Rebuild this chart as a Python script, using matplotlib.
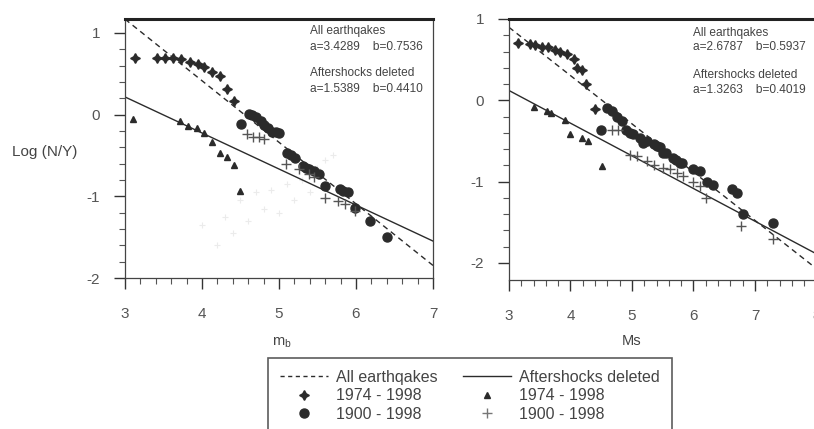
import numpy as np
import matplotlib
matplotlib.use('Agg')
import matplotlib.pyplot as plt
from matplotlib.lines import Line2D

plt.rcParams['font.family'] = ['Liberation Sans', 'DejaVu Sans']
plt.rcParams['axes.unicode_minus'] = False

# -----------------------------
# Data: left panel (mb)
# -----------------------------
mb_all_74 = [3.13, 3.41, 3.52, 3.62, 3.73, 3.84, 3.95, 4.03, 4.13, 4.23, 4.33, 4.42]
logn_all_74_mb = [0.69, 0.69, 0.69, 0.69, 0.68, 0.64, 0.62, 0.58, 0.52, 0.47, 0.31, 0.17]

mb_all_00 = [4.51, 4.61, 4.65, 4.70, 4.76, 4.81, 4.86, 4.91, 4.96, 5.00, 5.11, 5.16, 5.21,
             5.31, 5.35, 5.39, 5.45, 5.52, 5.60, 5.79, 5.83, 5.90, 5.99, 6.18, 6.40]
logn_all_00_mb = [-0.12, 0.01, -0.01, -0.03, -0.08, -0.13, -0.16, -0.21, -0.21, -0.23, -0.47, -0.50, -0.53,
                  -0.63, -0.65, -0.67, -0.69, -0.73, -0.87, -0.91, -0.93, -0.95, -1.14, -1.30, -1.50]

mb_as_74 = [3.11, 3.71, 3.82, 3.93, 4.02, 4.13, 4.23, 4.33, 4.41, 4.50]
logn_as_74_mb = [-0.05, -0.08, -0.14, -0.16, -0.23, -0.34, -0.47, -0.52, -0.62, -0.93]

mb_as_00 = [4.59, 4.66, 4.74, 4.81, 5.09, 5.26, 5.39, 5.45, 5.60, 5.77, 5.86, 5.99]
logn_as_00_mb = [-0.24, -0.27, -0.28, -0.30, -0.61, -0.67, -0.73, -0.76, -1.02, -1.06, -1.10, -1.18]

# faint bleed-through marks in the scan
mb_ghost = [4.0, 4.3, 4.5, 4.7, 4.8, 4.9, 5.0, 5.1, 5.2, 5.3, 5.4, 5.5, 4.6, 4.4, 4.2, 5.6, 5.7]
logn_ghost_mb = [-1.35, -1.25, -1.05, -0.95, -1.15, -0.92, -1.2, -0.85, -1.05, -0.80, -0.95, -0.65, -1.3, -1.45, -1.6, -0.55, -0.50]

mb_fit_all = (3.4289, 0.7536)
mb_fit_as = (1.5389, 0.4410)

# -----------------------------
# Data: right panel (Ms)
# -----------------------------
ms_all_74 = [3.14, 3.34, 3.42, 3.53, 3.64, 3.75, 3.83, 3.94, 4.05, 4.10, 4.18, 4.26, 4.40]
logn_all_74_ms = [0.71, 0.69, 0.68, 0.66, 0.65, 0.62, 0.60, 0.57, 0.51, 0.40, 0.37, 0.20, -0.11]

ms_all_00 = [4.50, 4.59, 4.67, 4.75, 4.83, 4.91, 4.97, 5.02, 5.13, 5.18, 5.24, 5.35, 5.40, 5.46,
             5.51, 5.56, 5.67, 5.72, 5.78, 5.81, 6.00, 6.11, 6.22, 6.32, 6.62, 6.70, 6.81, 7.30]
logn_all_00_ms = [-0.36, -0.09, -0.13, -0.20, -0.26, -0.36, -0.40, -0.42, -0.46, -0.52, -0.50, -0.54, -0.56, -0.58,
                  -0.65, -0.65, -0.71, -0.73, -0.77, -0.77, -0.85, -0.87, -1.00, -1.04, -1.09, -1.14, -1.40, -1.51]

ms_as_74 = [3.40, 3.61, 3.69, 3.91, 3.99, 4.18, 4.29, 4.51]
logn_as_74_ms = [-0.08, -0.13, -0.15, -0.24, -0.42, -0.46, -0.50, -0.81]

ms_as_00 = [4.67, 4.78, 4.97, 5.08, 5.24, 5.35, 5.51, 5.62, 5.73, 5.83, 6.00, 6.11, 6.21, 6.78, 7.30]
logn_as_00_ms = [-0.36, -0.36, -0.67, -0.69, -0.75, -0.79, -0.83, -0.85, -0.89, -0.93, -1.00, -1.06, -1.20, -1.55, -1.70]

ms_fit_all = (2.6787, 0.5937)
ms_fit_as = (1.3263, 0.4019)

DARK = '#2b2b2b'
TXT = '#444444'


def style_axes(ax, xlim, ylim, xticks):
    ax.set_xlim(*xlim)
    ax.set_ylim(*ylim)
    ax.set_xticks(xticks)
    ax.set_xticks(np.arange(xlim[0], xlim[1] + 0.01, 0.2), minor=True)
    ax.set_yticks([-2, -1, 0, 1])
    ax.set_yticks(np.arange(-2, 1.01, 0.2), minor=True)
    ax.tick_params(which='major', direction='out', length=8, width=1, colors='#333333',
                   labelsize=11, labelcolor='#555555')
    ax.tick_params(which='minor', direction='out', length=4, width=0.8, colors='#555555')
    ax.tick_params(axis='x', which='major', pad=13)
    ax.tick_params(axis='y', which='major', pad=10)
    for s in ax.spines.values():
        s.set_color('#444444')
        s.set_linewidth(0.9)
    ax.spines['top'].set_linewidth(2.2)
    ax.spines['top'].set_color('#222222')


def draw_panel(ax, x_range, fit_all, fit_as, d74, d00, a74, a00, texts):
    xs = np.array(x_range)
    ax.plot(xs, fit_all[0] - fit_all[1] * xs, '--', color=DARK, lw=1.0, dashes=(4, 3))
    ax.plot(xs, fit_as[0] - fit_as[1] * xs, '-', color=DARK, lw=1.0)
    ax.plot(*d74, ls='none', marker=(4, 1, 0), ms=7, color=DARK)
    ax.plot(*d00, ls='none', marker='o', ms=6.5, color=DARK, mec=DARK)
    ax.plot(*a74, ls='none', marker='^', ms=5, color=DARK)
    ax.plot(*a00, ls='none', marker='+', ms=7, mew=1.0, color='#555555')
    for (tx, ty, s) in texts:
        ax.text(tx, ty, s, transform=ax.transAxes, fontsize=8.6, color=TXT, va='center', ha='left')


fig = plt.figure(figsize=(8.14, 4.29), dpi=100)

ax1 = fig.add_axes([125 / 814, 1 - 278 / 429, 308 / 814, 259 / 429])
style_axes(ax1, (3, 7), (-2.0, 1.17), [3, 4, 5, 6, 7])
ax1.plot(mb_ghost, logn_ghost_mb, ls='none', marker='+', ms=5, color='#ebebeb', mew=0.8)
draw_panel(ax1, (3, 7), mb_fit_all, mb_fit_as,
           (mb_all_74, logn_all_74_mb), (mb_all_00, logn_all_00_mb),
           (mb_as_74, logn_as_74_mb), (mb_as_00, logn_as_00_mb),
           [(0.60, 0.952, 'All earthqakes'),
            (0.60, 0.892, 'a=3.4289    b=0.7536'),
            (0.60, 0.79, 'Aftershocks deleted'),
            (0.60, 0.73, 'a=1.5389    b=0.4410')])
ax1.set_xlabel(r'm$_\mathregular{b}$', fontsize=10.5, color=TXT)
ax1.xaxis.set_label_coords(0.51, -0.22)

ax2 = fig.add_axes([509 / 814, 1 - 280 / 429, 307.5 / 814, 261 / 429])
style_axes(ax2, (3, 8), (-2.21, 1.0), [3, 4, 5, 6, 7, 8])
draw_panel(ax2, (3, 8), ms_fit_all, ms_fit_as,
           (ms_all_74, logn_all_74_ms), (ms_all_00, logn_all_00_ms),
           (ms_as_74, logn_as_74_ms), (ms_as_00, logn_as_00_ms),
           [(0.599, 0.948, 'All earthqakes'),
            (0.599, 0.891, 'a=2.6787    b=0.5937'),
            (0.599, 0.785, 'Aftershocks deleted'),
            (0.599, 0.727, 'a=1.3263    b=0.4019')])
ax2.set_xlabel('Ms', fontsize=10.5, color=TXT)
ax2.xaxis.set_label_coords(0.40, -0.205)

fig.text(45 / 814, 1 - 152 / 429, 'Log (N/Y)', fontsize=11, color=TXT, ha='center', va='center')

handles = [
    Line2D([], [], ls='--', color=DARK, lw=1.0, dashes=(3, 2.5)),
    Line2D([], [], ls='none', marker=(4, 1, 0), ms=7, color=DARK),
    Line2D([], [], ls='none', marker='o', ms=6.5, color=DARK),
    Line2D([], [], ls='-', color=DARK, lw=1.0),
    Line2D([], [], ls='none', marker='^', ms=5, color=DARK),
    Line2D([], [], ls='none', marker='+', ms=7, color='#777777'),
]
labels = ['All earthqakes', '1974 - 1998', '1900 - 1998',
          'Aftershocks deleted', '1974 - 1998', '1900 - 1998']
leg = fig.legend(handles, labels, ncol=2, loc='upper left',
                 bbox_to_anchor=(268 / 814, 1 - 358 / 429),
                 fontsize=11.5, frameon=True, fancybox=False, edgecolor='#333333',
                 handlelength=3.0, handletextpad=0.5, columnspacing=1.6,
                 labelspacing=0.22, borderpad=0.75, borderaxespad=0)
leg.get_frame().set_linewidth(1.2)
for t in leg.get_texts():
    t.set_color(TXT)

fig.savefig('out.png', dpi=100)
